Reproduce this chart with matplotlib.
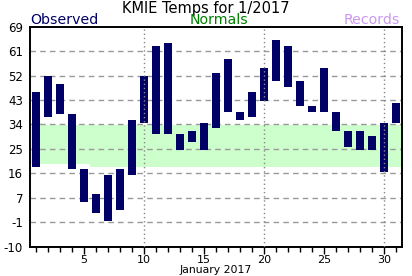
import matplotlib
matplotlib.use("Agg")
import matplotlib.pyplot as plt
import numpy as np

plt.rcParams['axes.unicode_minus'] = False
plt.rcParams['font.family'] = 'DejaVu Sans'

# Datos: enero 2017, KMIE
dias = list(range(1, 32))
obs_max = [46, 52, 49, 38, 18, 9, 16, 18, 36, 52, 63, 64, 31, 32, 35, 53,
           58, 39, 46, 55, 65, 63, 50, 41, 55, 39, 32, 32, 30, 35, 42]
obs_min = [19, 37, 38, 18, 6, 2, -1, 3, 16, 35, 31, 31, 25, 28, 25, 33,
           39, 36, 37, 43, 50, 48, 41, 39, 39, 32, 26, 25, 25, 17, 35]
norm_max = [35] + [34] * 30
norm_min = [20] * 5 + [19] * 26

etiquetas_y = ['-10', '-1', '7', '16', '25', '34', '43', '52', '61', '69']
etiquetas_x = ['5', '10', '15', '20', '25', '30']

W, H = 412, 276
fig = plt.figure(figsize=(W / 100, H / 100), dpi=100)
ax = fig.add_axes([30 / W, 1 - 246.7 / H, 372 / W, 220 / H])

ymin, ymax = -10.2, 69.9
ax.set_xlim(0.5, 31.5)
ax.set_ylim(ymin, ymax)

# banda de normales
ax.bar(dias, np.array(norm_max) - np.array(norm_min), bottom=norm_min,
       width=1.0, color='#ccffcc', linewidth=0, zorder=1)

# rejilla horizontal
yt = np.linspace(ymin, ymax, 10)
for y in yt[1:-1]:
    ax.axhline(y, color='#999999', lw=1.0, ls=(0, (4, 3)), zorder=2)

# barras observadas
ax.bar(dias, np.array(obs_max) - np.array(obs_min), bottom=obs_min,
       width=0.67, color='#000066', linewidth=0, zorder=3)

# rejilla vertical
for x in [10, 20, 30]:
    ax.axvline(x, color='#888888', lw=1.0, ls=(0, (1, 2)), zorder=4)

ax.set_yticks(yt)
ax.set_yticklabels(etiquetas_y, fontsize=8.5)
ax.tick_params(axis='y', length=0, pad=5)

ax.set_xticks([int(e) for e in etiquetas_x])
ax.set_xticklabels(etiquetas_x, fontsize=8)
ax.set_xticks(dias, minor=True)
ax.tick_params(axis='x', which='major', direction='out', length=5, width=1, pad=1)
ax.tick_params(axis='x', which='minor', direction='out', length=3.5, width=1)
ax.set_xlabel('January 2017', fontsize=7.8, labelpad=0)

for s in ax.spines.values():
    s.set_linewidth(1.4)

# titulo y leyenda
fig.text(0.5, 1 - 12.5 / H, 'KMIE Temps for 1/2017', ha='center', va='baseline',
         fontsize=10.5, color='black')
fig.text(30.5 / W, 1 - 24 / H, 'Observed', ha='left', va='baseline',
         fontsize=10.2, color='#000066')
fig.text(219 / W, 1 - 24 / H, 'Normals', ha='center', va='baseline',
         fontsize=10.2, color='#008000')
fig.text(400 / W, 1 - 24 / H, 'Records', ha='right', va='baseline',
         fontsize=10.2, color='#cc99ee')

fig.savefig('out.png', dpi=100)
